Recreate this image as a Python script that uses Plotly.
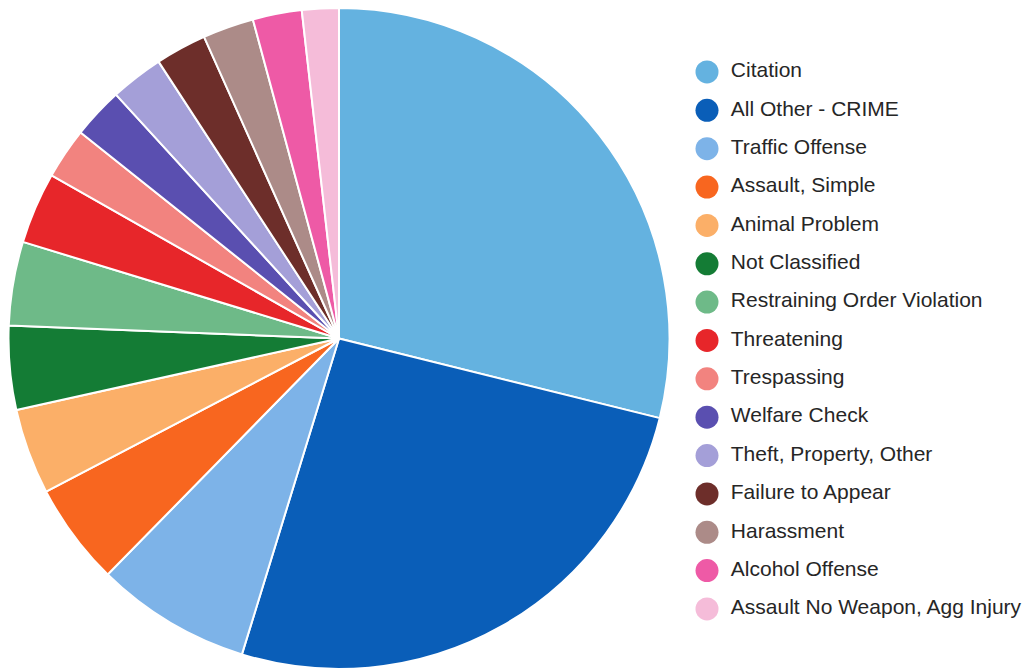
import plotly.graph_objects as go

# Incident categories and their shares of all calls (percent)
categories = [
    "Citation", "All Other - CRIME", "Traffic Offense", "Assault, Simple",
    "Animal Problem", "Not Classified", "Restraining Order Violation",
    "Threatening", "Trespassing", "Welfare Check", "Theft, Property, Other",
    "Failure to Appear", "Harassment", "Alcohol Offense",
    "Assault No Weapon, Agg Injury",
]
shares = [28.9, 25.9, 7.6, 5.0, 4.2, 4.1, 4.1, 3.5, 2.5, 2.5, 2.6, 2.5, 2.5, 2.4, 1.8]
colors = [
    "#64B2E0", "#0A5EB8", "#7DB3E8", "#F8661F", "#FBAF68",
    "#147C35", "#6EBA88", "#E7262A", "#F2837F", "#5A4FB0",
    "#A49FD8", "#6D2E2A", "#AC8B88", "#EE5AA6", "#F5BCD9",
]

fig = go.Figure()

fig.add_trace(go.Pie(
    labels=categories,
    values=shares,
    sort=False,
    direction="clockwise",
    rotation=0,
    marker=dict(colors=colors, line=dict(color="white", width=2)),
    textinfo="none",
    hoverinfo="label+percent",
    showlegend=False,
    domain=dict(x=[8 / 1029, 670 / 1029], y=[0, 1]),
))

# Key drawn as a column of round swatches with labels beside them
rows = list(range(len(categories)))
fig.add_trace(go.Scatter(
    x=[0.08] * len(categories), y=rows, mode="markers",
    marker=dict(size=23, color=colors, line=dict(width=0)),
    hoverinfo="skip", showlegend=False, xaxis="x", yaxis="y",
))
fig.add_trace(go.Scatter(
    x=[0.148] * len(categories), y=rows, mode="text",
    text=categories, textposition="middle right",
    textfont=dict(size=21, color="#262626", family="Liberation Sans, Arial, sans-serif"),
    hoverinfo="skip", showlegend=False, xaxis="x", yaxis="y",
))

fig.update_layout(
    width=1029, height=669,
    margin=dict(l=0, r=0, t=8, b=0),
    paper_bgcolor="white", plot_bgcolor="white",
    xaxis=dict(domain=[679 / 1029, 1], range=[0, 1], visible=False, fixedrange=True),
    yaxis=dict(domain=[0, 1], range=[15.565, -1.668], visible=False, fixedrange=True),
    font=dict(family="Liberation Sans, Arial, sans-serif"),
)

fig.write_html("out.html")
